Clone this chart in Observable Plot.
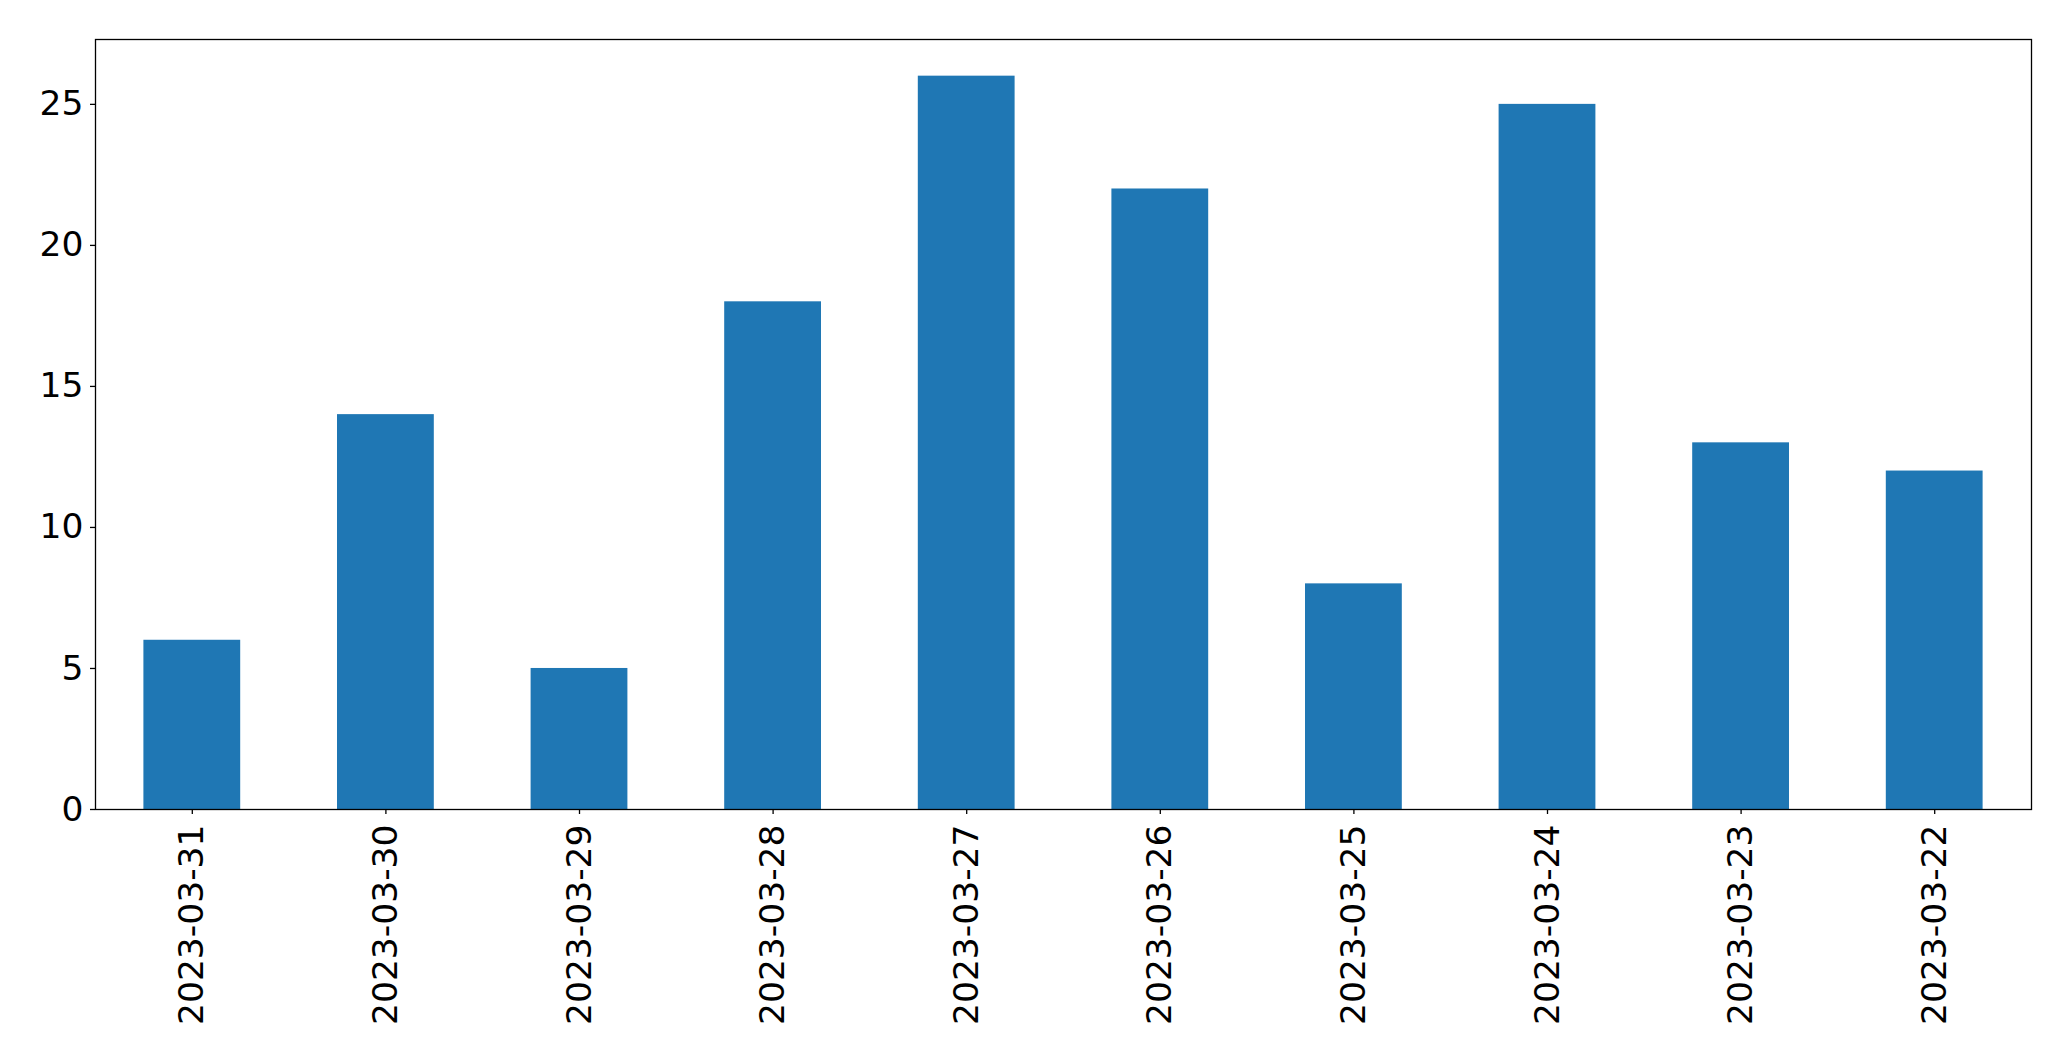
<!DOCTYPE html>
<html>
<head>
<meta charset="utf-8">
<script src="https://cdn.jsdelivr.net/npm/d3@7"></script>
<script src="https://cdn.jsdelivr.net/npm/@observablehq/plot@0.6"></script>
<style>
  html, body { margin: 0; padding: 0; background: #fff; }
</style>
</head>
<body>
<div id="chart"></div>
<script>
const dates = ["2023-03-31","2023-03-30","2023-03-29","2023-03-28","2023-03-27","2023-03-26","2023-03-25","2023-03-24","2023-03-23","2023-03-22"];
const counts = [6, 14, 5, 18, 26, 22, 8, 25, 13, 12];
const yTicks = [0, 5, 10, 15, 20, 25];

const data = dates.map((d, i) => ({date: d, count: counts[i]}));

const chart = Plot.plot({
  width: 2071,
  height: 1061,
  marginLeft: 95,
  marginRight: 40,
  marginTop: 39,
  marginBottom: 252,
  style: {fontFamily: "DejaVu Sans", fontSize: "34.5px", color: "#000", background: "#fff"},
  x: {type: "band", domain: dates, paddingInner: 0.5, paddingOuter: 0.25, round: false, label: null},
  y: {domain: [0, 27.3], label: null},
  marks: [
    Plot.barY(data, {x: "date", y: "count", fill: "#1f77b4"}),
    Plot.axisY({ticks: yTicks, tickSize: 5, tickPadding: 7, fontSize: 34.5, label: null, stroke: "#000", strokeWidth: 1.3}),
    Plot.axisX({tickSize: 5, tickPadding: 10, tickRotate: -90, fontSize: 34.5, label: null, stroke: "#000", strokeWidth: 1.3}),
    Plot.frame({stroke: "#000", strokeWidth: 1.3})
  ]
});
document.getElementById("chart").appendChild(chart);
</script>
</body>
</html>
